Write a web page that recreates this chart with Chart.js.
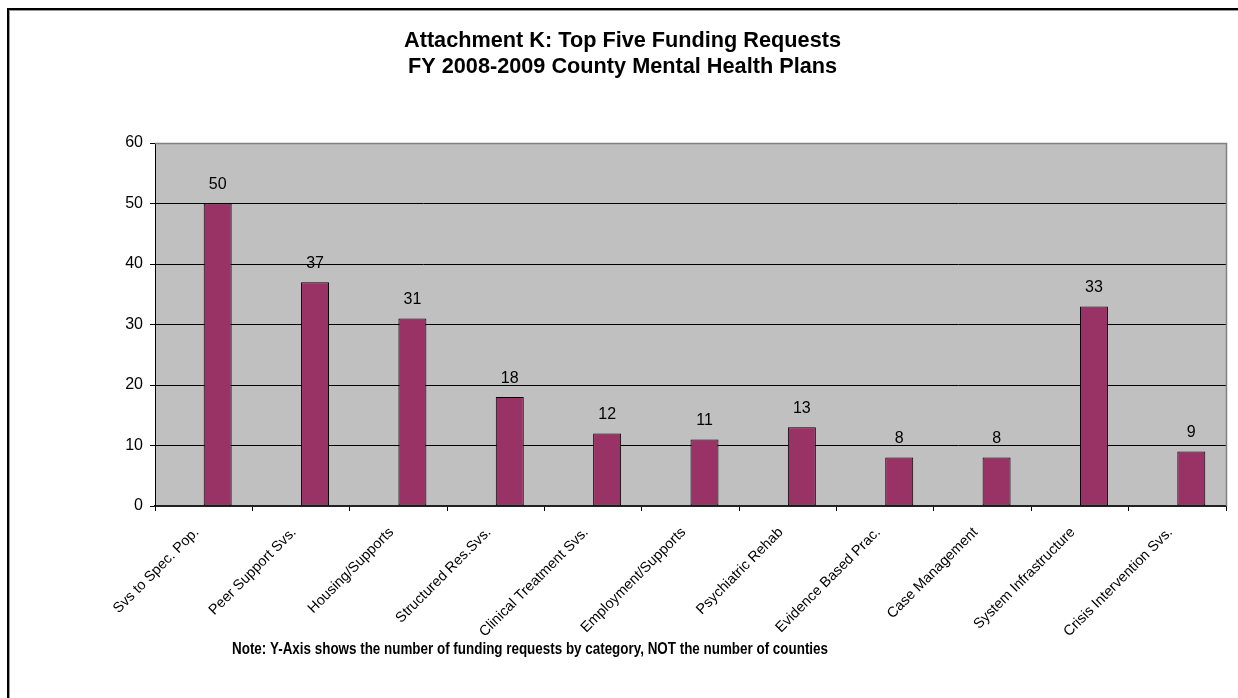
<!DOCTYPE html>
<html>
<head>
<meta charset="utf-8">
<script src="https://cdn.jsdelivr.net/npm/chart.js@4/dist/chart.umd.min.js"></script>
<style>
  html, body { margin: 0; padding: 0; background: #fff; }
  #wrap { position: relative; width: 1238px; height: 698px; overflow: hidden; }
  canvas { display: block; }
</style>
</head>
<body>
<div id="wrap"><canvas id="c" width="1238" height="698"></canvas></div>
<script>
// ---- data ----
const categories = [
  "Svs to Spec. Pop.", "Peer Support Svs.", "Housing/Supports", "Structured Res.Svs.",
  "Clinical Treatment Svs.", "Employment/Supports", "Psychiatric Rehab",
  "Evidence Based Prac.", "Case Management", "System Infrastructure", "Crisis Intervention Svs."
];
const requests = [50, 37, 31, 18, 12, 11, 13, 8, 8, 33, 9];
const emptySeries = [null, null, null, null, null, null, null, null, null, null, null];
const yTicksMin = 0, yTicksMax = 60, yTickStep = 10;
const titleLines = ["Attachment K: Top Five Funding Requests", "FY 2008-2009 County Mental Health Plans"];
const noteText = "Note: Y-Axis shows the number of funding requests by category, NOT the number of counties";

const FONT = "'Liberation Sans', Arial, Helvetica, sans-serif";

const framePlugin = {
  id: 'frame',
  beforeDraw(chart) {
    const ctx = chart.ctx, a = chart.chartArea;
    ctx.save();
    // outer frame (left & top edges visible)
    ctx.fillStyle = '#000';
    ctx.fillRect(7, 8, 2, chart.height - 8);
    ctx.fillRect(7, 8, chart.width - 7, 2);
    ctx.fillStyle = '#9a9a9a';
    ctx.fillRect(9, 10, 1, chart.height - 10);
    ctx.fillRect(9, 10, chart.width - 9, 1);
    // plot area background
    ctx.fillStyle = '#C0C0C0';
    ctx.fillRect(a.left, a.top, a.right - a.left, a.bottom - a.top);
    ctx.restore();
  },
  afterDraw(chart) {
    const ctx = chart.ctx, a = chart.chartArea;
    ctx.save();
    // plot area gray border (top & right)
    ctx.strokeStyle = '#808080';
    ctx.lineWidth = 1.5;
    ctx.beginPath();
    ctx.moveTo(a.left, a.top + 0.5);
    ctx.lineTo(a.right + 0.5, a.top + 0.5);
    ctx.lineTo(a.right + 0.5, a.bottom);
    ctx.stroke();
    // note text (condensed bold)
    ctx.fillStyle = '#000';
    ctx.font = "bold 16px " + FONT;
    ctx.textAlign = 'center';
    ctx.textBaseline = 'middle';
    const w = ctx.measureText(noteText).width;
    const sx = 596 / w;
    ctx.translate(530, 650);
    ctx.scale(sx, 1);
    ctx.fillText(noteText, 0, 0);
    ctx.restore();
  }
};

const valueLabelPlugin = {
  id: 'valueLabels',
  afterDatasetsDraw(chart) {
    const ctx = chart.ctx;
    const meta = chart.getDatasetMeta(1);
    ctx.save();
    ctx.fillStyle = '#000';
    ctx.font = "16px " + FONT;
    ctx.textAlign = 'center';
    ctx.textBaseline = 'middle';
    meta.data.forEach((el, i) => {
      const v = chart.data.datasets[1].data[i];
      if (v == null) return;
      ctx.fillText(String(v), el.x, el.y - 19);
    });
    ctx.restore();
  }
};

new Chart(document.getElementById('c'), {
  type: 'bar',
  data: {
    labels: categories,
    datasets: [
      { label: '', data: emptySeries, backgroundColor: '#9999FF', borderColor: '#000', borderWidth: 1,
        categoryPercentage: 0.575, barPercentage: 1 },
      { label: 'Requests', data: requests, backgroundColor: '#993366', borderColor: '#000', borderWidth: 1,
        borderSkipped: false, categoryPercentage: 0.575, barPercentage: 1 }
    ]
  },
  options: {
    responsive: false,
    animation: false,
    layout: { padding: { left: 19, right: 12, top: 0, bottom: 40 } },
    plugins: {
      legend: { display: false },
      tooltip: { enabled: false },
      title: {
        display: true,
        text: titleLines,
        color: '#000',
        font: { family: FONT, size: 21.7, weight: 'bold', lineHeight: 1.2 },
        padding: { top: 28, bottom: 63 }
      }
    },
    scales: {
      x: {
        offset: true,
        grid: { display: true, offset: true, drawOnChartArea: false, drawTicks: true, tickLength: 5, color: '#000', lineWidth: 1 },
        border: { display: true, color: '#222', width: 2 },
        ticks: { color: '#000', font: { family: FONT, size: 14.4 }, maxRotation: 45, minRotation: 45, autoSkip: false, padding: 13, labelOffset: -7 },
        afterFit(s) { s.height = 152; }
      },
      y: {
        min: yTicksMin, max: yTicksMax,
        grid: {
          color: ctx => (ctx.tick && ctx.tick.value === yTicksMax) ? 'rgba(0,0,0,0)' : '#000',
          tickColor: '#000',
          lineWidth: 1, drawTicks: true, tickLength: 5
        },
        border: { display: true, color: '#000', width: 1 },
        ticks: { stepSize: yTickStep, color: '#000', font: { family: FONT, size: 16 }, padding: 7 },
        afterFit(s) { s.width = 136; }
      }
    }
  },
  plugins: [framePlugin, valueLabelPlugin]
});
</script>
</body>
</html>
